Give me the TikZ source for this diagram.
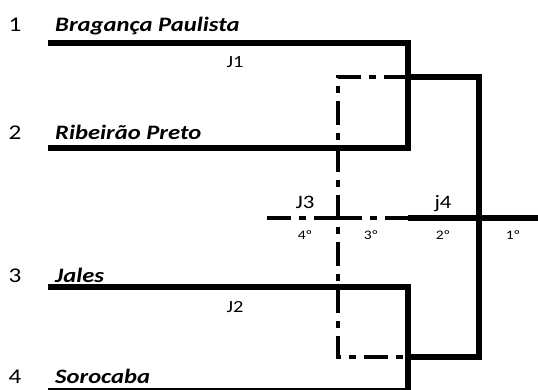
\documentclass[tikz,border=0pt]{standalone}
\usepackage{fontspec}
\setmainfont{Carlito}[FakeStretch=1.2]
\usetikzlibrary{calc}

\tikzset{
  winline/.style={line width=5.5pt},
  loseline/.style={line width=3.5pt, dash pattern=on 24pt off 8pt on 7pt off 8pt},
  lastline/.style={line width=3pt},
  team/.style={anchor=base west, inner sep=0pt, font=\fontsize{20.5}{24}\selectfont\bfseries\itshape},
  seed/.style={anchor=base, inner sep=0pt, font=\fontsize{21}{24}\selectfont},
  game/.style={anchor=base, inner sep=0pt, font=\fontsize{17}{20}\selectfont},
  final/.style={anchor=base, inner sep=0pt, font=\fontsize{19}{22}\selectfont},
  place/.style={anchor=base, inner sep=0pt, font=\fontsize{13}{15}\selectfont},
}

\begin{document}
\begin{tikzpicture}[x=1pt,y=-1pt]
  \useasboundingbox (0,0) rectangle (538,390);
  % teams
  \node[seed] (s1) at (15,32) {1};
  \node[team] (t1) at (55,32) {Bragança Paulista};
  \node[seed] (s2) at (15,140) {2};
  \node[team] (t2) at (55,140) {Ribeirão Preto};
  \node[seed] (s3) at (15,282) {3};
  \node[team] (t3) at (55,282) {Jales};
  \node[seed] (s4) at (15,383) {4};
  \node[team] (t4) at (55,383) {Sorocaba};
  % bracket points
  \coordinate (a1) at (48,43);
  \coordinate (b1) at (408,43);
  \coordinate (a2) at (48,148);
  \coordinate (b2) at (408,148);
  \coordinate (a3) at (48,287);
  \coordinate (b3) at (408,287);
  \coordinate (a4) at (48,389);
  \coordinate (b4) at (408,389);
  \coordinate (e2) at (408,391);
  \coordinate (w1) at (408,77);
  \coordinate (w2) at (408,357);
  \coordinate (c1) at (479,77);
  \coordinate (c2) at (479,357);
  \coordinate (l1) at (338,77);
  \coordinate (l2) at (338,357);
  \coordinate (m3) at (338,218);
  \coordinate (m0) at (267,218);
  \coordinate (m2) at (408,218);
  \coordinate (m1) at (538,218);
  % games
  \draw[winline] (a1) -- (b1) -- (b2) -- (a2);
  \draw[winline] (a3) -- (b3) -- (e2);
  \draw[lastline] (a4) -- (b4);
  \draw[loseline] (w1) -- (l1) -- (l2) -- (w2);
  \draw[loseline] (m3) -- (m0);
  \draw[loseline] (m3) -- (m2);
  \draw[winline] (w1) -- (c1) -- (c2) -- (w2);
  \draw[winline] (m2) -- (m1);
  % labels
  \node[game] (g1) at (235,68) {J1};
  \node[game] (g2) at (235,312) {J2};
  \node[final] (g3) at (305,209) {J3};
  \node[final] (g4) at (443,209) {j4};
  \node[place] (p4) at (305,240) {4º};
  \node[place] (p3) at (371,240) {3º};
  \node[place] (p2) at (443,240) {2º};
  \node[place] (p1) at (513,240) {1º};
\end{tikzpicture}
\end{document}
